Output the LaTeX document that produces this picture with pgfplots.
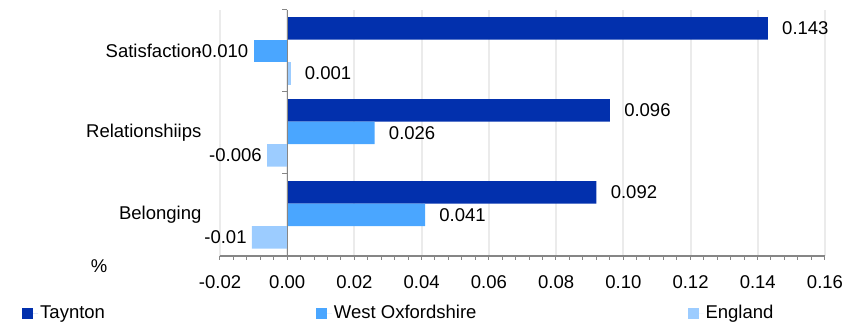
\documentclass[border=0pt]{standalone}
\usepackage{pgfplots}
\pgfplotsset{compat=1.18}
\usepackage{fontspec}
\setmainfont{Liberation Sans}
\definecolor{cA}{HTML}{0230AD}
\definecolor{cB}{HTML}{4AA6FF}
\definecolor{cC}{HTML}{9CCCFF}
\definecolor{axgray}{HTML}{868686}
\definecolor{gridgray}{HTML}{EBEBEB}
\pgfplotsset{
  myleg/.style={legend image code/.code={\fill[##1,draw=none] (0pt,-5.5pt) rectangle (11pt,5.5pt); \path (11pt,0pt) -- (16pt,0pt);}},
  pos/.style={every node near coord/.append style={anchor=west, xshift=8pt, text=black}},
  neg/.style={every node near coord/.append style={anchor=east, xshift=1pt, text=black}},
}
\begin{document}
\fontsize{18.5}{22}\selectfont
\begin{tikzpicture}
\begin{axis}[
  at={(220pt,67pt)}, anchor=south west,
  scale only axis, width=605pt, height=246pt,
  xbar, bar width=22.5pt, clip=false,
  xmin=-0.02, xmax=0.16, ymin=-0.5, ymax=2.5,
  xtick={-0.02,0,0.02,0.04,0.06,0.08,0.10,0.12,0.14,0.16},
  xticklabels={-0.02,0.00,0.02,0.04,0.06,0.08,0.10,0.12,0.14,0.16},
  ytick={0,1,2}, yticklabels={Belonging,Relationshiips,Satisfaction},
  axis lines*=left,
  y axis line style={draw=none},
  x axis line style={-, draw=axgray, line width=1.2pt},
  ytick style={/pgfplots/major tick length=0pt, draw opacity=0},
  xtick style={/pgfplots/major tick length=0pt, draw opacity=0},
  xmajorgrids, grid style={gridgray, line width=2pt},
  xticklabel style={yshift=-13pt, text=black},
  yticklabel style={xshift=-8pt, text=black},
  nodes near coords,
  point meta=explicit symbolic,
  legend style={at={(axis description cs:0,0)}, anchor=north west, xshift=-201pt, yshift=-45pt,
    draw=none, fill=none, legend columns=3,
    /tikz/every even column/.append style={column sep=209pt}},
]
\addplot[fill=cA, draw=none, bar shift=22.5pt, myleg, pos] coordinates {(0.143,2) [0.143] (0.096,1) [0.096] (0.092,0) [0.092]};
\addplot[fill=cB, draw=none, bar shift=0pt, myleg, pos] coordinates {(0.026,1) [0.026] (0.041,0) [0.041]};
\addplot[fill=cC, draw=none, bar shift=-22.5pt, myleg, pos] coordinates {(0.001,2) [0.001]};
\addplot[fill=cB, draw=none, bar shift=0pt, neg, forget plot] coordinates {(-0.010,2) [-0.010]};
\addplot[fill=cC, draw=none, bar shift=-22.5pt, neg, forget plot] coordinates {(-0.006,1) [-0.006] (-0.0105,0) [-0.01]};
\legend{Taynton, West Oxfordshire, England}
\draw[axgray, line width=1.2pt] (axis cs:0,-0.5) -- (axis cs:0,2.5);
\pgfplotsinvokeforeach{0.5,1.5,2.5}{\draw[axgray, line width=1pt] (axis cs:0,#1) -- ([xshift=-5pt]axis cs:0,#1);}
\pgfplotsinvokeforeach{-0.02,-0.016,...,0.161}{\draw[axgray, line width=1pt] (axis cs:#1,-0.5) -- ([yshift=-4pt]axis cs:#1,-0.5);}
\node at (axis description cs:0,0) [xshift=-121pt, yshift=-10pt] {\%};
\end{axis}
\pgfresetboundingbox
\path[use as bounding box] (0,0) rectangle (855pt,323pt);
\end{tikzpicture}
\end{document}
